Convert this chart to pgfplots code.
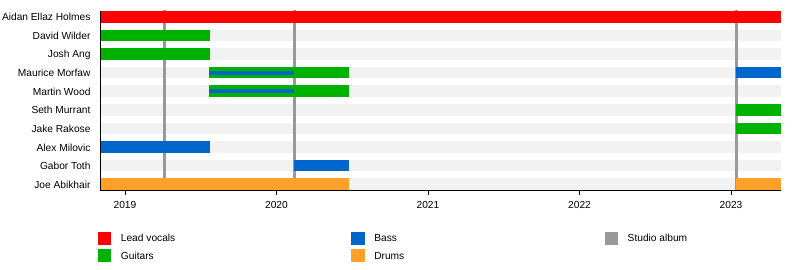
\documentclass[border=0pt]{standalone}
\usepackage{fontspec}
\setmainfont{Liberation Sans}
\usepackage{pgfplots}
\pgfplotsset{compat=1.18}
\definecolor{cVoc}{RGB}{255,0,0}
\definecolor{cGtr}{RGB}{0,178,0}
\definecolor{cBass}{RGB}{0,102,204}
\definecolor{cDrm}{RGB}{255,160,40}
\definecolor{cAlb}{RGB}{153,153,153}
\definecolor{cStripe}{RGB}{242,242,242}
\begin{document}
\begin{tikzpicture}
\path[use as bounding box] (0,0) rectangle (800pt,270pt);
\begin{axis}[
  at={(100pt,80pt)}, anchor=south west,
  scale only axis, width=681pt, height=179pt,
  xmin=2018.835, xmax=2023.33,
  ymin=-0.31, ymax=9.31,
  clip=false, axis on top,
  axis x line*=bottom, axis y line*=left,
  axis line style={-, black, line width=0.8pt},
  tick align=outside, major tick length=5pt,
  xtick={2019,2020,2021,2022,2023},
  xticklabels={2019,2020,2021,2022,2023},
  xtick style={black, line width=0.8pt},
  xticklabel style={yshift=-3pt},
  ytick={0,1,2,3,4,5,6,7,8,9},
  yticklabels={Joe Abikhair,Gabor Toth,Alex Milovic,Jake Rakose,Seth Murrant,Martin Wood,Maurice Morfaw,Josh Ang,David Wilder,Aidan Ellaz Holmes},
  yticklabel style={xshift=-1pt, yshift=-0.5pt},
  ytick style={draw=none},
  tick label style={font=\fontsize{10.2}{12}\selectfont},
  legend columns=3,
  legend style={at={(axis description cs:0,0)}, anchor=north west,
    xshift=-2pt, yshift=-42pt, draw=none, fill=none,
    inner sep=0pt, outer sep=0pt, column sep=0pt, row sep=5pt,
    font=\fontsize{10.2}{12}\selectfont,
    nodes={inner sep=0pt},
    /tikz/every odd column/.append style={column sep=10pt}},
  legend image code/.code={\fill[#1] (0pt,-6pt) rectangle (12.5pt,6pt);},
  bar/.style={line width=11.5pt, line cap=butt, forget plot, color=#1},
  thin/.style={line width=4pt, line cap=butt, forget plot, color=#1},
  album/.style={line width=3pt, line cap=butt, forget plot, color=cAlb},
]
% background stripes
\addplot[bar=cStripe] coordinates {(2018.835,8) (2023.33,8)};
\addplot[bar=cStripe] coordinates {(2018.835,7) (2023.33,7)};
\addplot[bar=cStripe] coordinates {(2018.835,6) (2023.33,6)};
\addplot[bar=cStripe] coordinates {(2018.835,5) (2023.33,5)};
\addplot[bar=cStripe] coordinates {(2018.835,4) (2023.33,4)};
\addplot[bar=cStripe] coordinates {(2018.835,3) (2023.33,3)};
\addplot[bar=cStripe] coordinates {(2018.835,2) (2023.33,2)};
\addplot[bar=cStripe] coordinates {(2018.835,1) (2023.33,1)};
\addplot[bar=cStripe] coordinates {(2018.835,0) (2023.33,0)};
% studio albums
\addplot[album] coordinates {(2019.26,-0.31) (2019.26,9.36)};
\addplot[album] coordinates {(2020.12,-0.31) (2020.12,9.36)};
\addplot[album] coordinates {(2023.035,-0.31) (2023.035,9.36)};
% Aidan Ellaz Holmes
\addplot[bar=cVoc] coordinates {(2018.835,9) (2023.33,9)};
% David Wilder
\addplot[bar=cGtr] coordinates {(2018.835,8) (2019.56,8)};
% Josh Ang
\addplot[bar=cGtr] coordinates {(2018.835,7) (2019.56,7)};
% Maurice Morfaw
\addplot[bar=cGtr] coordinates {(2019.555,6) (2020.478,6)};
\addplot[thin=cBass] coordinates {(2019.555,6) (2020.118,6)};
\addplot[bar=cBass] coordinates {(2023.03,6) (2023.33,6)};
% Martin Wood
\addplot[bar=cGtr] coordinates {(2019.555,5) (2020.478,5)};
\addplot[thin=cBass] coordinates {(2019.555,5) (2020.118,5)};
% Seth Murrant
\addplot[bar=cGtr] coordinates {(2023.03,4) (2023.33,4)};
% Jake Rakose
\addplot[bar=cGtr] coordinates {(2023.03,3) (2023.33,3)};
% Alex Milovic
\addplot[bar=cBass] coordinates {(2018.835,2) (2019.56,2)};
% Gabor Toth
\addplot[bar=cBass] coordinates {(2020.118,1) (2020.478,1)};
% Joe Abikhair
\addplot[bar=cDrm] coordinates {(2018.835,0) (2020.478,0)};
\addplot[bar=cDrm] coordinates {(2023.03,0) (2023.33,0)};
% legend
\addlegendimage{cVoc}
\addlegendentry{\makebox[230.5pt][l]{\raisebox{-1.5pt}{Lead vocals}}}
\addlegendimage{cBass}
\addlegendentry{\makebox[230.5pt][l]{\raisebox{-1.5pt}{Bass}}}
\addlegendimage{cAlb}
\addlegendentry{\makebox[230.5pt][l]{\raisebox{-1.5pt}{Studio album}}}
\addlegendimage{cGtr}
\addlegendentry{\makebox[230.5pt][l]{\raisebox{-1.5pt}{Guitars}}}
\addlegendimage{cDrm}
\addlegendentry{\makebox[230.5pt][l]{\raisebox{-1.5pt}{Drums}}}
\end{axis}
\end{tikzpicture}
\end{document}
